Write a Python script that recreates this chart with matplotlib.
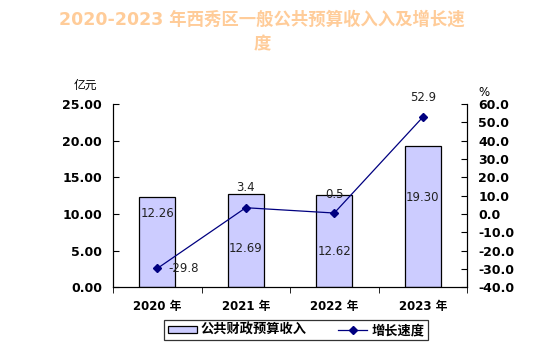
import matplotlib.pyplot as plt
import numpy as np

plt.rcParams['font.family'] = ['DejaVu Sans', 'Noto Sans CJK SC']

# 数据
years = ['2020 年', '2021 年', '2022 年', '2023 年']
revenue = [12.26, 12.69, 12.62, 19.30]       # 亿元
growth = [-29.8, 3.4, 0.5, 52.9]              # %
growth_labels = ['-29.8', '3.4', '0.5', '52.9']
rev_label_y = [10.0, 5.3, 4.9, 12.3]          # 柱内标签位置
left_ticks = [0, 5, 10, 15, 20, 25]
right_ticks = [-40, -30, -20, -10, 0, 10, 20, 30, 40, 50, 60]

fig = plt.figure(figsize=(5.54, 3.58), dpi=100)
ax = fig.add_axes([0.204, 0.198, 0.639, 0.511])
x = np.arange(len(years))

ax.bar(x, revenue, width=0.41, color='#CCCCFF', edgecolor='black', linewidth=0.9,
       label='公共财政预算收入', zorder=2)
for xi, v, ly in zip(x, revenue, rev_label_y):
    ax.text(xi, ly, '%.2f' % v, ha='center', va='center', fontsize=8.5,
            color='#222222', zorder=5)

ax.set_xlim(-0.5, 3.5)
ax.set_ylim(0, 25)
ax.set_yticks(left_ticks)
ax.set_yticklabels(['%.2f' % t for t in left_ticks], fontsize=9, fontweight='bold')
ax.tick_params(axis='y', direction='in', length=4, pad=8)
ax.set_xticks(x)
ax.set_xticklabels(years, fontsize=8.5, fontweight='bold')
ax.tick_params(axis='x', length=0, pad=9)
ax.set_xticks(np.arange(-0.5, 4, 1), minor=True)
ax.tick_params(axis='x', which='minor', direction='out', length=4)
ax.spines['top'].set_color('none')

# 右轴
ax2 = ax.twinx()
ax2.plot(x, growth, color='#000080', linewidth=0.9, marker='D', markersize=4,
         label='增长速度', zorder=3)
ax2.set_ylim(-40, 60)
ax2.set_yticks(right_ticks)
ax2.set_yticklabels(['%.1f' % t for t in right_ticks], fontsize=9, fontweight='bold')
ax2.tick_params(axis='y', direction='in', length=4, pad=8)
ax2.spines['top'].set_color('none')

# 增长速度标签
ax2.text(x[0] + 0.3, growth[0], growth_labels[0], ha='center', va='center', fontsize=8.5, color='#222222')
ax2.text(x[1], growth[1] + 11, growth_labels[1], ha='center', va='center', fontsize=8.5, color='#222222')
ax2.text(x[2], growth[2] + 10, growth_labels[2], ha='center', va='center', fontsize=8.5, color='#222222')
ax2.text(x[3], growth[3] + 10.5, growth_labels[3], ha='center', va='center', fontsize=8.5, color='#222222')

fig.text(85 / 554, 1 - 85 / 358, '亿元', ha='center', va='center', fontsize=8.5,
         family=['Noto Sans CJK SC'])
fig.text(484 / 554, 1 - 93 / 358, '%', ha='center', va='center', fontsize=8.5)

fig.text(262 / 554, 1 - 32 / 358, '2020-2023 年西秀区一般公共预算收入入及增长速\n度',
         ha='center', va='center', fontsize=12.5, fontweight='bold', color='#FFCC99',
         linespacing=1.45)

h1, l1 = ax.get_legend_handles_labels()
h2, l2 = ax2.get_legend_handles_labels()
leg = fig.legend(h1 + h2, l1 + l2, loc='center', bbox_to_anchor=(296 / 554, 1 - 330 / 358),
                 ncol=2, frameon=True, fancybox=False, edgecolor='black',
                 prop={'family': ['Noto Sans CJK SC'], 'size': 9.5, 'weight': 'bold'},
                 handlelength=2.2, handleheight=0.4, columnspacing=2.4,
                 borderpad=0.25, handletextpad=0.3)
leg.get_frame().set_linewidth(0.9)

fig.savefig('out.png', dpi=100)
